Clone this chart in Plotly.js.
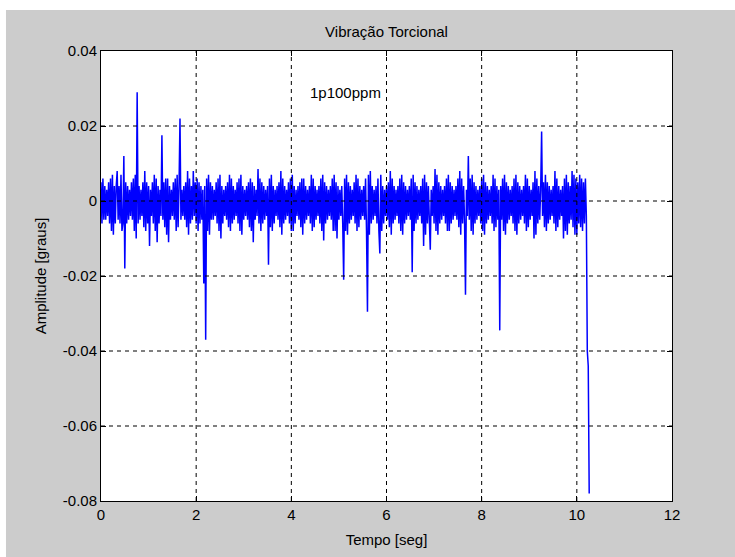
<!DOCTYPE html>
<html><head><meta charset="utf-8">
<script src="https://cdn.plot.ly/plotly-3.0.1.min.js"></script>
<style>html,body{margin:0;padding:0;background:#fff}#chart{width:735px;height:557px}</style>
</head><body><div id="chart"></div>
<script>
// Sampling interval of the recorded signal (seconds)
const sampleStep = 0.02;
const amplitudeMilli = [
  5,-6,6,-5,4,-5,3,-4,5,-6,6,-8,7,-9,4,-6,4,8,-5,4,-6,7,-8,-6,12,
  -18,5,-6,4,-5,3,-4,5,-5,6,-8,7,-10,29,-6,4,-5,3,-4,5,-7,8,-8,5,-6,
  4,-12,3,-4,5,-6,7,-8,6,-11,4,-6,3,-4,17.5,-5,5,-7,6,-9,6,-11,4,-5,3,
  -4,5,-5,6,-8,7,-7,4,22,-5,3,-4,4,-5,5,-7,8,-9,6,-6,4,-5,8,-4,5,
  -6,6,-8,5,-6,4,-5,3,-22,4,-37,6,-8,7,-9,5,-5,4,-5,3,-4,5,-6,6,-8,
  7,-10,4,-6,3,-4,4,-5,5,-7,7,-8,6,-6,4,-5,3,-4,5,-6,6,-8,7,-9,4,
  -5,3,-4,4,-5,5,-7,6,-8,5,-11,4,-5,3,-4,8.5,-6,6,-8,5,-6,4,-5,3,-4,
  4,-17,6,-7,7,-8,4,-6,3,-4,4,-5,5,-7,8,-9,6,-6,4,-5,3,-4,5,-6,6,
  -8,7,-8,4,-6,3,-4,4,-5,5,-7,6,-9,6,-6,4,-5,3,-4,4,-6,7,-8,6,-7,
  4,-5,3,-4,4,-6,6,-8,7,-10.5,5,-6,4,-5,3,-4,4,-5,6,-8,7,-8,5,-10,4,
  -5,3,-4,4,-6,-21,6,-8,7,-9,5,-6,4,-5,3,-4,5,-6,7,-8,6,-7,4,-5,3,
  -4,4,-5,6,-8,-29.5,7,-9,8,-6,4,-5,3,-4,4,-6,6,-8,-14,7,-8,4,-6,3,-4,
  4,-5,5,-7,8,-9,6,-6,4,-5,3,-4,4,-6,6,-8,7,-9,5,-6,4,-5,3,-4,4,
  -5,6,-19,7,-8,5,-6,4,-5,3,-4,4,-6,6,-12,7,-9,5,-6,4,-5,-13,3,-4,4,
  -6,8.5,-8,7,-9,5,-6,4,-5,3,-4,4,-6,6,-8,7,-8,5,-6,4,-5,3,-4,4,-5,
  6,-7,8,-9,6,-6,4,-5,-25,3,-4,12,-5,6,-8,7,-9,5,-6,4,-5,3,-4,4,-6,
  6,-8,7,-9,5,-6,4,-5,3,-4,4,-6,7,-8,6,-7,4,-5,3,-34.5,4,-5,6,-8,7,
  -9,5,-6,4,-5,3,-4,4,-6,6,-8,7,-9,5,-6,4,-5,3,-4,4,-6,7,-8,6,-7,
  4,-5,3,-4,5,-10,8,-9,6,-6,4,-5,3,18.5,-4,5,-7,7,-8,5,-6,4,-5,3,-4,
  4,-6,8,-8,6,-7,4,-5,3,-4,4,-10,6,-8,7,-9,5,-6,4,-5,8,-7,7,-9,6,
  -9,5,-6,7,-7,6,-8,5,-6,6,-4,-40,-44,-78
];
const xTickVals = [0, 2, 4, 6, 8, 10, 12];
const xTickText = ['0', '2', '4', '6', '8', '10', '12'];
const yTickVals = [-0.08, -0.06, -0.04, -0.02, 0, 0.02, 0.04];
const yTickText = ['-0.08', '-0.06', '-0.04', '-0.02', '0', '0.02', '0.04'];
const chartTitle = 'Vibração Torcional';
const xTitle = 'Tempo [seg]';
const yTitle = 'Amplitude [graus]';
const noteText = '1p100ppm';
const noteX = 4.35, noteY = 0.029;

const timeSec = amplitudeMilli.map((_, i) => i * sampleStep);
const amplitude = amplitudeMilli.map(v => v / 1000);

const xRange = [0, 12], yRange = [-0.08, 0.04];
const font = 'Liberation Sans, Arial, sans-serif';

const gridShapes = [];
xTickVals.filter(v => v > xRange[0] && v < xRange[1]).forEach(v => gridShapes.push({
  type: 'line', xref: 'x', yref: 'paper', x0: v, x1: v, y0: 0, y1: 1, layer: 'above',
  line: {color: '#000', width: 1, dash: '4px,4px'}
}));
yTickVals.filter(v => v > yRange[0] && v < yRange[1]).forEach(v => gridShapes.push({
  type: 'line', xref: 'paper', yref: 'y', x0: 0, x1: 1, y0: v, y1: v, layer: 'above',
  line: {color: '#000', width: 1, dash: '4px,4px'}
}));
// white page margin outside the grey figure
gridShapes.push({type: 'rect', xref: 'paper', yref: 'paper', x0: -0.3, x1: 1.3, y0: 1.0911, y1: 1.3, layer: 'below', fillcolor: '#fff', line: {width: 0}});
gridShapes.push({type: 'rect', xref: 'paper', yref: 'paper', x0: -0.3, x1: -0.1664, y0: -0.3, y1: 1.3, layer: 'below', fillcolor: '#fff', line: {width: 0}});

const axisCommon = {
  ticks: 'inside', ticklen: 5, tickcolor: '#000', tickwidth: 1,
  showline: true, linecolor: '#000', linewidth: 1, mirror: 'ticks',
  showgrid: false, zeroline: false,
  tickfont: {family: font, size: 15, color: '#000'}
};

const trace = {
  x: timeSec, y: amplitude, type: 'scatter', mode: 'lines',
  line: {color: '#0000ff', width: 1.5, simplify: false},
  hoverinfo: 'skip'
};

const layout = {
  width: 735, height: 557,
  margin: {l: 101, r: 63, t: 51, b: 56, pad: 0},
  paper_bgcolor: '#cccccc', plot_bgcolor: '#ffffff',
  showlegend: false,
  font: {family: font, color: '#000'},
  title: {text: chartTitle, font: {family: font, size: 15, color: '#000'}, x: 0.5, xref: 'paper', y: 1 - 32/557, yref: 'container', yanchor: 'middle'},
  xaxis: Object.assign({}, axisCommon, {range: xRange, tickmode: 'array', tickvals: xTickVals, ticktext: xTickText,
    title: {text: xTitle, font: {family: font, size: 15, color: '#000'}, standoff: 12}}),
  yaxis: Object.assign({}, axisCommon, {range: yRange, tickmode: 'array', tickvals: yTickVals, ticktext: yTickText,
    title: {text: yTitle, font: {family: font, size: 15, color: '#000'}, standoff: 12}}),
  shapes: gridShapes,
  annotations: [{x: noteX, y: noteY, xref: 'x', yref: 'y', text: noteText, showarrow: false, xanchor: 'left', yanchor: 'middle',
    font: {family: font, size: 15, color: '#000'}}]
};

Plotly.newPlot('chart', [trace], layout, {staticPlot: true, displayModeBar: false});
</script>
</body></html>
